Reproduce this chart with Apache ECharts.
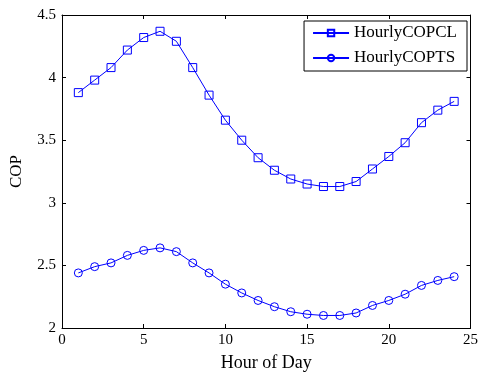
<!DOCTYPE html>
<html>
<head>
<meta charset="utf-8">
<script src="https://cdn.jsdelivr.net/npm/echarts@6/dist/echarts.min.js"></script>
<style>
  html, body { margin: 0; padding: 0; background: #fff; }
  #chart { width: 481px; height: 377px; }
</style>
</head>
<body>
<div id="chart"></div>
<script>
// Hour of day (1..24)
const hours = [1,2,3,4,5,6,7,8,9,10,11,12,13,14,15,16,17,18,19,20,21,22,23,24];
// Hourly coefficient of performance, CL configuration
const copCL = [3.88,3.98,4.08,4.22,4.32,4.37,4.29,4.08,3.86,3.66,3.50,3.36,
               3.26,3.19,3.15,3.13,3.13,3.17,3.27,3.37,3.48,3.64,3.74,3.81];
// Hourly coefficient of performance, TS configuration
const copTS = [2.44,2.49,2.52,2.58,2.62,2.64,2.61,2.52,2.44,2.35,2.28,2.22,
               2.17,2.13,2.11,2.10,2.10,2.12,2.18,2.22,2.27,2.34,2.38,2.41];
const seriesNames = ['HourlyCOPCL', 'HourlyCOPTS'];

const FONT = '"Liberation Serif", "Times New Roman", serif';
const BLUE = '#0000ff';

const pairs = (ys) => hours.map((h, i) => [h, ys[i]]);

const tickAxis = (extra) => Object.assign({
  type: 'value',
  axisLine: { show: true, onZero: false, lineStyle: { color: '#000', width: 1 } },
  axisTick: { show: true, inside: true, length: 4, lineStyle: { color: '#000' } },
  splitLine: { show: false },
  axisLabel: { show: false }
}, extra);

const chart = echarts.init(document.getElementById('chart'), null, { renderer: 'canvas' });

chart.setOption({
  animation: false,
  backgroundColor: '#fff',
  textStyle: { fontFamily: FONT },
  grid: { left: 62, right: 10, top: 15, bottom: 45 },
  legend: {
    orient: 'vertical',
    right: 14,
    top: 21,
    data: seriesNames,
    itemWidth: 36,
    itemHeight: 8,
    itemGap: 5,
    padding: [2, 10, 3, 8],
    borderColor: '#000',
    borderWidth: 1,
    backgroundColor: '#fff',
    textStyle: { fontFamily: FONT, fontSize: 17, color: '#000', lineHeight: 20 }
  },
  xAxis: [
    tickAxis({
      position: 'bottom',
      min: 0, max: 25, interval: 5,
      name: 'Hour of Day',
      nameLocation: 'middle',
      nameGap: 26,
      nameTextStyle: { fontFamily: FONT, fontSize: 18, color: '#000' },
      axisLabel: { show: true, fontFamily: FONT, fontSize: 15, color: '#000', margin: 5 }
    }),
    tickAxis({ position: 'top', min: 0, max: 25, interval: 5 })
  ],
  yAxis: [
    tickAxis({
      position: 'left',
      min: 2, max: 4.5, interval: 0.5,
      name: 'COP',
      nameLocation: 'middle',
      nameGap: 37,
      nameTextStyle: { fontFamily: FONT, fontSize: 17, color: '#000' },
      axisLabel: { show: true, fontFamily: FONT, fontSize: 15, color: '#000', margin: 6 }
    }),
    tickAxis({ position: 'right', min: 2, max: 4.5, interval: 0.5 })
  ],
  series: [
    {
      name: seriesNames[0],
      type: 'line',
      xAxisIndex: 0, yAxisIndex: 0,
      data: pairs(copCL),
      symbol: 'rect',
      symbolSize: 8,
      lineStyle: { color: BLUE, width: 1 },
      itemStyle: { color: 'rgba(0,0,0,0)', borderColor: BLUE, borderWidth: 1 }
    },
    {
      name: seriesNames[1],
      type: 'line',
      xAxisIndex: 0, yAxisIndex: 0,
      data: pairs(copTS),
      symbol: 'circle',
      symbolSize: 8,
      lineStyle: { color: BLUE, width: 1 },
      itemStyle: { color: 'rgba(0,0,0,0)', borderColor: BLUE, borderWidth: 1 }
    }
  ]
});
</script>
</body>
</html>
